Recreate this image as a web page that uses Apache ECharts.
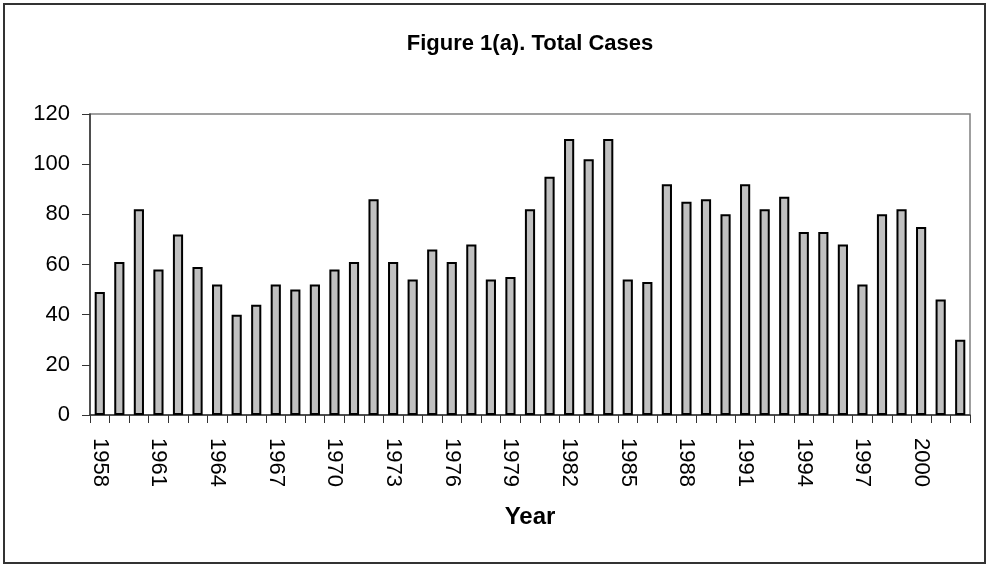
<!DOCTYPE html>
<html>
<head>
<meta charset="utf-8">
<style>
  html, body { margin: 0; padding: 0; background: #fff; }
  #chart { width: 987px; height: 565px; }
</style>
<script src="https://cdn.jsdelivr.net/npm/echarts@6/dist/echarts.min.js"></script>
</head>
<body>
<div id="chart"></div>
<script>
// years 1958 - 2002
const years = [
  '1958', '1959', '1960', '1961', '1962', '1963', '1964', '1965', '1966', '1967',
  '1968', '1969', '1970', '1971', '1972', '1973', '1974', '1975', '1976', '1977',
  '1978', '1979', '1980', '1981', '1982', '1983', '1984', '1985', '1986', '1987',
  '1988', '1989', '1990', '1991', '1992', '1993', '1994', '1995', '1996', '1997',
  '1998', '1999', '2000', '2001', '2002'
];
const totalCases = [
  49, 61, 82, 58, 72, 59, 52, 40, 44, 52,
  50, 52, 58, 61, 86, 61, 54, 66, 61, 68,
  54, 55, 82, 95, 110, 102, 110, 54, 53, 92,
  85, 86, 80, 92, 82, 87, 73, 73, 68, 52,
  80, 82, 75, 46, 30
];
const yTicks = [0, 20, 40, 60, 80, 100, 120];

const chart = echarts.init(document.getElementById('chart'));
const font = 'Liberation Sans, Arial, sans-serif';

chart.setOption({
  animation: false,
  textStyle: { fontFamily: font, color: '#000' },
  title: {
    text: 'Figure 1(a). Total Cases',
    left: 525,
    top: 28,
    textAlign: 'center',
    textStyle: { fontFamily: font, fontSize: 22, fontWeight: 'bold', color: '#000' }
  },
  graphic: [{
    type: 'rect',
    shape: { x: 4, y: 4, width: 981, height: 559 },
    style: { fill: 'none', stroke: '#333', lineWidth: 2 },
    silent: true
  }],
  grid: {
    left: 90,
    right: 17,
    top: 114,
    bottom: 150,
    show: true,
    borderColor: '#808080',
    borderWidth: 1.5
  },
  xAxis: {
    type: 'category',
    data: years,
    boundaryGap: true,
    name: 'Year',
    nameLocation: 'middle',
    nameGap: 90,
    nameTextStyle: { fontFamily: font, fontSize: 24, fontWeight: 'bold', color: '#000' },
    axisLine: { lineStyle: { color: '#333', width: 1.5 } },
    axisTick: { show: true, interval: 0, length: 8, lineStyle: { color: '#333' } },
    axisLabel: {
      interval: 2,
      rotate: -90,
      margin: 23,
      fontSize: 22,
      color: '#000',
      fontFamily: font
    },
    splitLine: { show: false }
  },
  yAxis: {
    type: 'value',
    min: yTicks[0],
    max: yTicks[yTicks.length - 1],
    interval: 20,
    axisLine: { show: true, lineStyle: { color: '#333', width: 1.5 } },
    axisTick: { show: true, length: 8, lineStyle: { color: '#333' } },
    axisLabel: { margin: 20, fontSize: 22, color: '#000', fontFamily: font },
    splitLine: { show: false }
  },
  series: [{
    name: 'Total Cases',
    type: 'bar',
    data: totalCases,
    barWidth: '52%',
    itemStyle: { color: '#c0c0c0', borderColor: '#000', borderWidth: 2 }
  }]
});
</script>
</body>
</html>
